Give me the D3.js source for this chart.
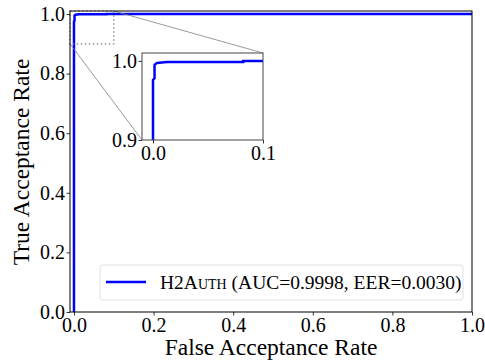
<!DOCTYPE html>
<html>
<head>
<meta charset="utf-8">
<script src="https://cdn.jsdelivr.net/npm/d3@7"></script>
<style>
  body { margin: 0; background: #fff; }
  text { font-family: "Liberation Serif", "DejaVu Serif", serif; }
</style>
</head>
<body>
<svg id="chart"></svg>
<script>
const width = 485;
const height = 361;

// ROC points
const fpr = [0, 0, 0.0014, 0.0014, 0.0036, 0.0127, 0.082, 0.082, 1.0];
const tpr = [0, 0.976, 0.978, 0.995, 0.9975, 0.9987, 0.9987, 1.0, 1.0];

const mainTicks = [0, 0.2, 0.4, 0.6, 0.8, 1.0];
const insetXTicks = [0, 0.1];
const insetYTicks = [0.9, 1.0];

const legendLabel = "H2A";
const legendCaps = "uth";
const legendRest = " (AUC=0.9998, EER=0.0030)";

const svg = d3.select("#chart").attr("width", width).attr("height", height);

const x = d3.scaleLinear().domain([-0.01, 1.0]).range([70, 472]);
const y = d3.scaleLinear().domain([0, 1.01]).range([312, 11]);

const xi = d3.scaleLinear().domain([-0.01, 0.1]).range([142, 263]);
const yi = d3.scaleLinear().domain([0.9, 1.01]).range([140, 53]);

const points = fpr.map((d, i) => [d, tpr[i]]);

svg.append("clipPath").attr("id", "clip-main")
  .append("rect")
  .attr("x", 70).attr("y", 11).attr("width", 402).attr("height", 301);

svg.append("clipPath").attr("id", "clip-inset")
  .append("rect")
  .attr("x", 142).attr("y", 53).attr("width", 121).attr("height", 87);

// main curve
svg.append("path")
  .datum(points)
  .attr("clip-path", "url(#clip-main)")
  .attr("fill", "none")
  .attr("stroke", "#0000ff")
  .attr("stroke-width", 2.5)
  .attr("d", d3.line().x((d) => x(d[0])).y((d) => y(d[1])));

// zoom box on the main axes
svg.append("rect")
  .attr("x", x(-0.01))
  .attr("y", y(1.01))
  .attr("width", x(0.1) - x(-0.01))
  .attr("height", y(0.9) - y(1.01))
  .attr("fill", "none")
  .attr("stroke", "#808080")
  .attr("stroke-width", 1.2)
  .attr("stroke-dasharray", "1.5,2.5");

// connectors
svg.append("line")
  .attr("x1", x(0.1)).attr("y1", y(1.01))
  .attr("x2", xi(0.1)).attr("y2", yi(1.01))
  .attr("stroke", "#808080").attr("stroke-width", 0.8);
svg.append("line")
  .attr("x1", x(-0.01)).attr("y1", y(0.9))
  .attr("x2", xi(-0.01)).attr("y2", yi(0.9))
  .attr("stroke", "#808080").attr("stroke-width", 0.8);

// main axes
const xAxis = svg.append("g")
  .attr("transform", "translate(0,312)")
  .call(d3.axisBottom(x).tickValues(mainTicks).tickFormat(d3.format(".1f")).tickSizeOuter(0).tickSize(3.5));
const yAxis = svg.append("g")
  .attr("transform", "translate(70,0)")
  .call(d3.axisLeft(y).tickValues(mainTicks).tickFormat(d3.format(".1f")).tickSizeOuter(0).tickSize(3.5));

[xAxis, yAxis].forEach((g) => {
  g.select(".domain").remove();
  g.selectAll(".tick line").attr("stroke", "#000").attr("stroke-width", 0.8);
  g.selectAll(".tick text").attr("font-size", 20).attr("font-family", "Liberation Serif").attr("fill", "#000");
});
xAxis.selectAll(".tick text").attr("dy", "0.78em").attr("y", 4);
yAxis.selectAll(".tick text").attr("x", -5);

svg.append("rect")
  .attr("x", 70).attr("y", 11).attr("width", 402).attr("height", 301)
  .attr("fill", "none").attr("stroke", "#000").attr("stroke-width", 1);

// inset
svg.append("rect")
  .attr("x", 142).attr("y", 53).attr("width", 121).attr("height", 87)
  .attr("fill", "#fff");

svg.append("path")
  .datum(points)
  .attr("clip-path", "url(#clip-inset)")
  .attr("fill", "none")
  .attr("stroke", "#0000ff")
  .attr("stroke-width", 2.5)
  .attr("d", d3.line().x((d) => xi(d[0])).y((d) => yi(d[1])));

const xiAxis = svg.append("g")
  .attr("transform", "translate(0,140)")
  .call(d3.axisBottom(xi).tickValues(insetXTicks).tickFormat(d3.format(".1f")).tickSizeOuter(0).tickSize(3.5));
const yiAxis = svg.append("g")
  .attr("transform", "translate(142,0)")
  .call(d3.axisLeft(yi).tickValues(insetYTicks).tickFormat(d3.format(".1f")).tickSizeOuter(0).tickSize(3.5));

[xiAxis, yiAxis].forEach((g) => {
  g.select(".domain").remove();
  g.selectAll(".tick line").attr("stroke", "#000").attr("stroke-width", 0.8);
  g.selectAll(".tick text").attr("font-size", 20).attr("font-family", "Liberation Serif").attr("fill", "#000");
});
xiAxis.selectAll(".tick text").attr("dy", "0.78em").attr("y", 4);
yiAxis.selectAll(".tick text").attr("x", -5);

svg.append("rect")
  .attr("x", 142).attr("y", 53).attr("width", 121).attr("height", 87)
  .attr("fill", "none").attr("stroke", "#444").attr("stroke-width", 1);

// axis labels
svg.append("text")
  .attr("x", 271).attr("y", 355)
  .attr("text-anchor", "middle")
  .attr("font-size", 23.5)
  .text("False Acceptance Rate");

svg.append("text")
  .attr("transform", "translate(29,162) rotate(-90)")
  .attr("text-anchor", "middle")
  .attr("font-size", 23.5)
  .text("True Acceptance Rate");

// legend
const legend = svg.append("g");
legend.append("rect")
  .attr("x", 100).attr("y", 265).attr("width", 363).attr("height", 35)
  .attr("rx", 3)
  .attr("fill", "#fff").attr("fill-opacity", 0.8)
  .attr("stroke", "#d9d9d9").attr("stroke-width", 0.8);
legend.append("line")
  .attr("x1", 106).attr("x2", 146).attr("y1", 282).attr("y2", 282)
  .attr("stroke", "#0000ff").attr("stroke-width", 2.5);
const lt = legend.append("text")
  .attr("x", 160).attr("y", 289)
  .attr("font-size", 19.5);
lt.append("tspan").text(legendLabel);
lt.append("tspan").attr("font-variant", "small-caps").text(legendCaps);
lt.append("tspan").text(legendRest);
</script>
</body>
</html>
